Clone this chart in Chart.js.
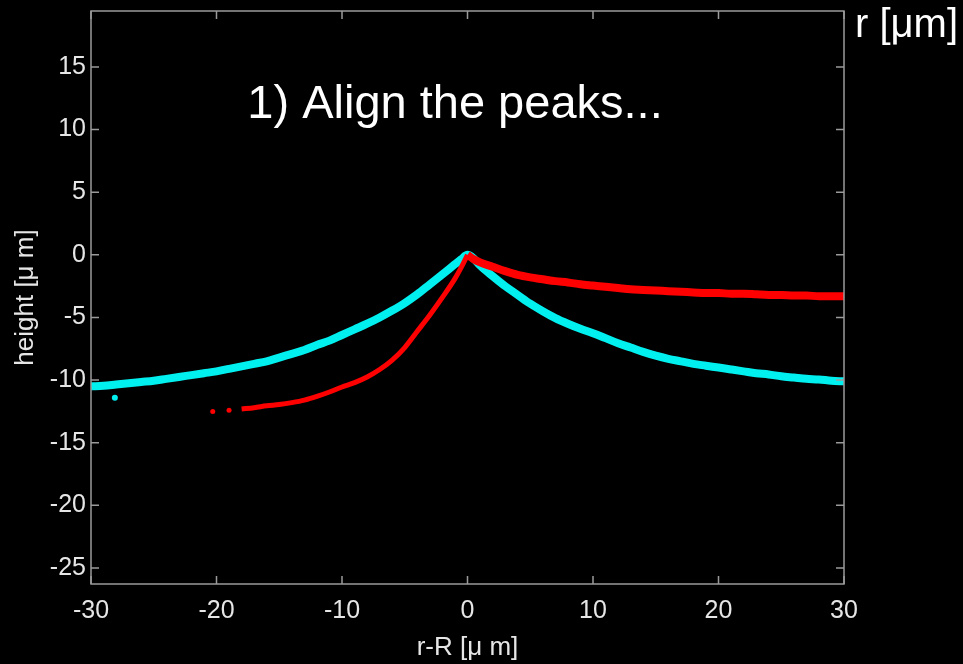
<!DOCTYPE html>
<html>
<head>
<meta charset="utf-8">
<script src="https://cdn.jsdelivr.net/npm/chart.js@4"></script>
<style>
  html, body { margin: 0; padding: 0; background: #000; }
  #wrap { width: 963px; height: 664px; }
</style>
</head>
<body>
<div id="wrap"><canvas id="peaks_canvas" width="963" height="664"></canvas></div>
<script>
// values (micrometres)
var cyanX = [-30, -29, -28, -27, -26, -25, -24, -23, -22, -21, -20, -19, -18, -17, -16, -15, -14, -13, -12, -11,
             -10, -9, -8, -7, -6, -5, -4, -3, -2, -1, -0.5, 0, 0.5, 1, 2, 3, 4, 5, 6, 7, 8, 9, 10,
             11, 12, 13, 14, 15, 16, 17, 18, 19, 20, 21, 22, 23, 24, 25, 26, 27, 28, 29, 30];
var cyanY = [-10.5, -10.45, -10.35, -10.25, -10.15, -10.05, -9.9, -9.75, -9.6, -9.45, -9.3, -9.1, -8.9, -8.7, -8.5, -8.2, -7.9, -7.6, -7.2, -6.85,
             -6.4, -5.95, -5.5, -5.0, -4.45, -3.85, -3.15, -2.35, -1.55, -0.75, -0.35, 0, -0.3, -0.85, -1.7, -2.5, -3.2, -3.9, -4.5, -5.05, -5.5, -5.9, -6.25,
             -6.65, -7.05, -7.4, -7.75, -8.05, -8.3, -8.5, -8.7, -8.85, -9.0, -9.15, -9.3, -9.45, -9.55, -9.7, -9.8, -9.9, -9.95, -10.05, -10.1];
var cyanStrayX = [-28.1];
var cyanStrayY = [-11.4];

var redLeftX = [-18, -17, -16, -15, -14, -13, -12, -11, -10, -9, -8, -7, -6, -5, -4, -3, -2, -1, -0.5, 0];
var redLeftY = [-12.3, -12.2, -12.05, -11.95, -11.8, -11.6, -11.3, -10.95, -10.55, -10.2, -9.75, -9.15, -8.4, -7.4, -6.1, -4.8, -3.4, -1.9, -1.0, 0];
var redDotsX = [-20.3, -19.0];
var redDotsY = [-12.5, -12.4];
var redRightX = [0, 0.5, 1, 2, 3, 4, 5, 6, 7, 8, 9, 10, 11, 12, 13, 14, 15, 16, 17, 18, 19, 20, 21, 22, 23, 24, 25, 26, 27, 28, 29, 30];
var redRightY = [0, -0.35, -0.6, -0.95, -1.3, -1.6, -1.8, -1.95, -2.1, -2.2, -2.35, -2.45, -2.55, -2.65, -2.75, -2.8, -2.85, -2.9, -2.95, -3.0,
                 -3.05, -3.05, -3.1, -3.1, -3.15, -3.2, -3.2, -3.25, -3.25, -3.3, -3.3, -3.3];

var xTicks = [-30, -20, -10, 0, 10, 20, 30];
var yTicks = [-25, -20, -15, -10, -5, 0, 5, 10, 15];

var CYAN = 'rgb(0, 240, 240)';
var RED = 'rgb(255, 0, 0)';
var FONT = '"Liberation Sans", Arial, sans-serif';

function pts(xs, ys) {
    return xs.map(function (x, i) { return { x: x, y: ys[i] }; });
}

// MATLAB style box with inward ticks + the two free text labels
var boxPlugin = {
    id: 'box',
    afterDraw: function (chart) {
        var ctx = chart.ctx;
        var a = chart.chartArea;
        var xs = chart.scales.x, ys = chart.scales.y;
        ctx.save();
        ctx.strokeStyle = '#9a9a9a';
        ctx.lineWidth = 1.5;
        ctx.strokeRect(a.left, a.top, a.right - a.left, a.bottom - a.top);
        ctx.beginPath();
        xTicks.forEach(function (v) {
            var px = xs.getPixelForValue(v);
            ctx.moveTo(px, a.bottom); ctx.lineTo(px, a.bottom - 8);
            ctx.moveTo(px, a.top); ctx.lineTo(px, a.top + 8);
        });
        yTicks.forEach(function (v) {
            var py = ys.getPixelForValue(v);
            ctx.moveTo(a.left, py); ctx.lineTo(a.left + 8, py);
            ctx.moveTo(a.right, py); ctx.lineTo(a.right - 8, py);
        });
        ctx.stroke();

        ctx.fillStyle = '#ffffff';
        ctx.textBaseline = 'alphabetic';
        ctx.font = '47px ' + FONT;
        ctx.textAlign = 'center';
        ctx.fillText('1) Align the peaks...', 455, 118);
        ctx.font = '40px ' + FONT;
        ctx.textAlign = 'left';
        ctx.fillText('r [\u03bcm]', 855, 37);
        ctx.restore();
    }
};

var canvas = document.getElementById('peaks_canvas');

var chart = new Chart(canvas, {
    type: 'scatter',
    data: {
        datasets: [
            {
                data: pts(redRightX, redRightY),
                showLine: true,
                borderColor: RED,
                borderWidth: 8,
                pointRadius: 0,
                cubicInterpolationMode: 'monotone',
                order: 0
            },
            {
                data: pts(redLeftX, redLeftY),
                showLine: true,
                borderColor: RED,
                borderWidth: 5,
                pointRadius: 0,
                cubicInterpolationMode: 'monotone',
                order: 0
            },
            {
                data: pts(redDotsX, redDotsY),
                showLine: false,
                backgroundColor: RED,
                borderWidth: 0,
                pointRadius: 2.5,
                order: 0
            },
            {
                data: pts(cyanX, cyanY),
                showLine: true,
                borderColor: CYAN,
                borderWidth: 8,
                pointRadius: 0,
                cubicInterpolationMode: 'monotone',
                order: 1
            },
            {
                data: pts(cyanStrayX, cyanStrayY),
                showLine: false,
                backgroundColor: CYAN,
                borderWidth: 0,
                pointRadius: 3,
                order: 1
            }
        ]
    },
    options: {
        responsive: false,
        animation: false,
        layout: {
            padding: { left: 0, top: 11, right: 119, bottom: 0 }
        },
        scales: {
            x: {
                type: 'linear',
                min: -30,
                max: 30,
                afterFit: function (scale) {
                    scale.height = 80;
                    scale.paddingLeft = 0;
                    scale.paddingRight = 0;
                },
                afterBuildTicks: function (scale) {
                    scale.ticks = xTicks.map(function (v) { return { value: v }; });
                },
                grid: { display: false, drawTicks: false },
                border: { display: false },
                ticks: {
                    color: '#e6e6e6',
                    padding: 12,
                    maxRotation: 0,
                    font: { family: FONT, size: 25 }
                },
                title: {
                    display: true,
                    text: 'r-R [\u03bc m]',
                    color: '#e6e6e6',
                    padding: { top: 0, bottom: 1 },
                    font: { family: FONT, size: 26 }
                }
            },
            y: {
                type: 'linear',
                min: -26.28,
                max: 19.47,
                afterFit: function (scale) {
                    scale.width = 91;
                    scale.paddingTop = 0;
                    scale.paddingBottom = 0;
                },
                afterBuildTicks: function (scale) {
                    scale.ticks = yTicks.map(function (v) { return { value: v }; });
                },
                grid: { display: false, drawTicks: false },
                border: { display: false },
                ticks: {
                    color: '#e6e6e6',
                    padding: 5,
                    font: { family: FONT, size: 25 }
                },
                title: {
                    display: true,
                    text: 'height [\u03bc m]',
                    color: '#e6e6e6',
                    padding: { top: 10, bottom: 0 },
                    font: { family: FONT, size: 26 }
                }
            }
        },
        plugins: {
            legend: { display: false },
            tooltip: { enabled: false },
            title: { display: false }
        }
    },
    plugins: [boxPlugin]
});
</script>
</body>
</html>
